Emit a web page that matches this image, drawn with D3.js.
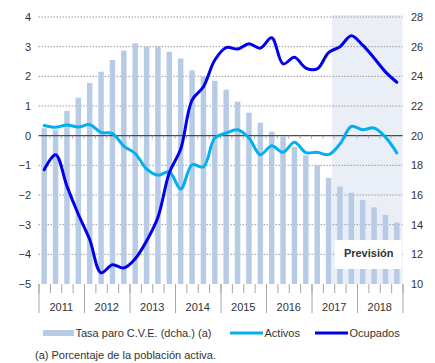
<!DOCTYPE html>
<html>
<head>
<meta charset="utf-8">
<script src="https://cdn.jsdelivr.net/npm/d3@7"></script>
<style>
  html, body { margin: 0; padding: 0; background: #fff; }
  svg { display: block; font-family: "Liberation Sans", Arial, sans-serif; }
</style>
</head>
<body>
<svg id="chart" width="435" height="363"></svg>
<script>
// Quarterly series 2011T1 – 2018T4
const years = ["2011", "2012", "2013", "2014", "2015", "2016", "2017", "2018"];
const quarters = years.flatMap(y => ["T1", "T2", "T3", "T4"].map(q => y + q));

// Tasa de paro C.V.E. (% población activa), eje derecho
const tasaParo = [20.5, 20.4, 21.66, 22.56, 23.55, 24.31, 25.1, 25.73,
                  26.22, 26.0, 26.0, 25.66, 25.2, 24.4, 24.0, 23.7,
                  23.1, 22.29, 21.55, 20.87, 20.27, 19.93, 19.25, 18.68,
                  18.02, 17.15, 16.56, 16.15, 15.66, 15.17, 14.65, 14.13];

// Variación interanual (%), eje izquierdo
const activos = [0.34, 0.28, 0.36, 0.29, 0.37, 0.11, 0.07, -0.35,
                 -0.6, -1.12, -1.33, -1.22, -1.8, -0.98, -1.05, -0.08,
                 0.09, 0.2, -0.08, -0.64, -0.34, -0.56, -0.22, -0.57,
                 -0.56, -0.64, -0.28, 0.31, 0.2, 0.26, -0.05, -0.58];

const ocupados = [-1.15, -0.64, -1.7, -2.65, -3.5, -4.62, -4.35, -4.46,
                  -4.15, -3.55, -2.75, -1.25, -0.45, 1.2, 1.65, 2.55,
                  2.97, 2.92, 3.1, 2.95, 3.3, 2.42, 2.64, 2.28,
                  2.25, 2.8, 3.0, 3.37, 3.05, 2.62, 2.15, 1.8];

const leftTicks = [4, 3, 2, 1, 0, -1, -2, -3, -4, -5];
const rightTicks = [28, 26, 24, 22, 20, 18, 16, 14, 12, 10];
const forecastFrom = "2017T3";

const labels = {
  bars: "Tasa paro C.V.E. (dcha.) (a)",
  activos: "Activos",
  ocupados: "Ocupados",
  forecast: "Previsión",
  note: "(a) Porcentaje de la población activa."
};

const colors = {
  bar: "#b7cae6",
  activos: "#00b0f0",
  ocupados: "#0000ee",
  forecast: "#e9eef7",
  grid: "#9a9a9a",
  zero: "#4a4a4a",
  text: "#333333",
  tick: "#a6a6a6"
};

const plot = { left: 38.5, right: 402.5, top: 17, bottom: 284 };

const svg = d3.select("#chart");

const x = d3.scaleBand().domain(quarters)
  .range([plot.left, plot.right]).paddingInner(0.52).paddingOuter(0.26);
const xYear = d3.scaleBand().domain(years).range([plot.left, plot.right]);
const xIdx = d3.scaleLinear().domain([0, quarters.length]).range([plot.left, plot.right]);
const yL = d3.scaleLinear().domain([-5, 4]).range([plot.bottom, plot.top]);
const yR = d3.scaleLinear().domain([10, 28]).range([plot.bottom, plot.top]);
const cx = q => x(q) + x.bandwidth() / 2;

// Forecast background
const fStart = cx(quarters[quarters.indexOf(forecastFrom) - 1]) + x.bandwidth() / 2 + 0.5;
svg.append("rect")
  .attr("x", fStart).attr("y", plot.top - 2)
  .attr("width", plot.right - fStart).attr("height", plot.bottom - plot.top + 2)
  .attr("fill", colors.forecast);

// Dotted gridlines
svg.append("g").selectAll("line")
  .data(leftTicks.filter(v => v !== 0 && v !== -5))
  .join("line")
  .attr("x1", plot.left).attr("x2", plot.right)
  .attr("y1", d => yL(d)).attr("y2", d => yL(d))
  .attr("stroke", colors.grid).attr("stroke-width", 1)
  .attr("stroke-dasharray", "1.5,1.5");

// Bars (right axis)
svg.append("g").selectAll("rect")
  .data(quarters)
  .join("rect")
  .attr("x", d => x(d))
  .attr("width", x.bandwidth())
  .attr("y", (d, i) => yR(tasaParo[i]))
  .attr("height", (d, i) => yR(10) - yR(tasaParo[i]))
  .attr("fill", colors.bar);

// Forecast label box
const boxX = fStart + 3;
svg.append("rect")
  .attr("x", boxX).attr("y", 240)
  .attr("width", plot.right - 1 - boxX).attr("height", 29)
  .attr("fill", "#fff");
svg.append("text")
  .attr("x", (boxX + plot.right) / 2).attr("y", 256.5)
  .attr("text-anchor", "middle")
  .attr("font-size", 11).attr("font-weight", "bold")
  .attr("fill", colors.text)
  .text(labels.forecast);

// Zero line with quarter ticks
svg.append("line")
  .attr("x1", plot.left).attr("x2", plot.right)
  .attr("y1", yL(0)).attr("y2", yL(0))
  .attr("stroke", colors.zero).attr("stroke-width", 1.3);
svg.append("g").selectAll("line")
  .data(d3.range(1, quarters.length))
  .join("line")
  .attr("x1", d => xIdx(d)).attr("x2", d => xIdx(d))
  .attr("y1", yL(0)).attr("y2", yL(0) + 3)
  .attr("stroke", colors.tick).attr("stroke-width", 1);

// Bottom category ticks: quarters (short) and years (long)
const qAxis = svg.append("g")
  .attr("transform", `translate(0,${plot.bottom})`)
  .call(d3.axisBottom(xIdx).tickValues(d3.range(quarters.length + 1)).tickSize(9).tickFormat(""));
const yAxisTicks = svg.append("g")
  .attr("transform", `translate(0,${plot.bottom})`)
  .call(d3.axisBottom(xIdx).tickValues(d3.range(0, quarters.length + 1, 4)).tickSize(29).tickFormat(""));
[qAxis, yAxisTicks].forEach(g => {
  g.select(".domain").remove();
  g.selectAll("line").attr("stroke", colors.tick);
});

// Year labels
const yearAxis = svg.append("g")
  .attr("transform", `translate(0,${plot.bottom})`)
  .call(d3.axisBottom(xYear).tickSize(0).tickPadding(19));
yearAxis.select(".domain").remove();
yearAxis.selectAll("text").attr("font-size", 11).attr("fill", colors.text)
  .attr("font-family", "Liberation Sans, Arial, sans-serif");

// Left axis
const leftAxis = svg.append("g")
  .attr("transform", `translate(${plot.left - 3.5},0)`)
  .call(d3.axisLeft(yL).tickValues(leftTicks).tickSize(0).tickPadding(4));
leftAxis.select(".domain").remove();
leftAxis.selectAll("text").attr("font-size", 11).attr("fill", colors.text)
  .attr("font-family", "Liberation Sans, Arial, sans-serif");

// Right axis
const rightAxis = svg.append("g")
  .attr("transform", `translate(${plot.right + 4.5},0)`)
  .call(d3.axisRight(yR).tickValues(rightTicks).tickSize(0).tickPadding(4));
rightAxis.select(".domain").remove();
rightAxis.selectAll("text").attr("font-size", 11).attr("fill", colors.text)
  .attr("font-family", "Liberation Sans, Arial, sans-serif");

// Lines (left axis)
const line = d3.line().curve(d3.curveCatmullRom.alpha(0.5));
const drawLine = (values, color) => svg.append("path")
  .datum(quarters.map((q, i) => [cx(q), yL(values[i])]))
  .attr("d", line)
  .attr("fill", "none")
  .attr("stroke", color)
  .attr("stroke-width", 3)
  .attr("stroke-linejoin", "round")
  .attr("stroke-linecap", "round");
drawLine(activos, colors.activos);
drawLine(ocupados, colors.ocupados);

// Legend
const legendY = 333;
const legend = svg.append("g").attr("font-size", 11).attr("fill", colors.text);
const items = [
  { x: 43, w: 31, label: labels.bars, color: colors.bar, h: 6 },
  { x: 230, w: 33, label: labels.activos, color: colors.activos, h: 3 },
  { x: 315, w: 33, label: labels.ocupados, color: colors.ocupados, h: 3 }
];
items.forEach(it => {
  legend.append("rect")
    .attr("x", it.x).attr("y", legendY - it.h / 2)
    .attr("width", it.w).attr("height", it.h)
    .attr("fill", it.color);
  legend.append("text")
    .attr("x", it.x + it.w + 1.5).attr("y", legendY + 4)
    .text(it.label);
});

// Footnote
svg.append("text")
  .attr("x", 35).attr("y", 359)
  .attr("font-size", 11).attr("fill", colors.text)
  .text(labels.note);
</script>
</body>
</html>
